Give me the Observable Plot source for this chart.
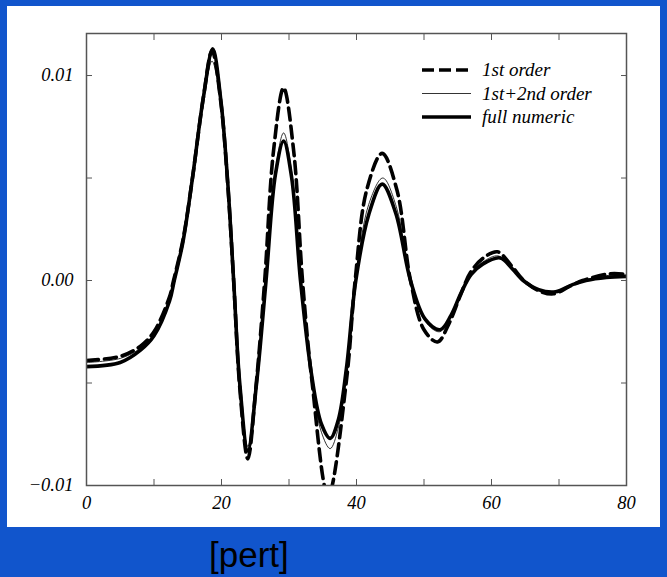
<!DOCTYPE html>
<html>
<head>
<meta charset="utf-8">
<script src="https://cdn.jsdelivr.net/npm/d3@7"></script>
<script src="https://cdn.jsdelivr.net/npm/@observablehq/plot@0.6"></script>
<style>
  html, body { margin: 0; padding: 0; }
  body { width: 667px; height: 577px; background: #1155cc; position: relative; overflow: hidden; }
  #panel { position: absolute; left: 7px; top: 6px; width: 653px; height: 521px; background: #fff; }
  #legend { position: absolute; left: 0; top: 0; }
  #caption { position: absolute; left: 209px; top: 537px; font-family: "Liberation Sans", Arial, sans-serif; font-size: 35px; line-height: 35px; color: #000; }
</style>
</head>
<body>
<div id="panel"></div>
<svg id="legend" width="667" height="577"></svg>
<div id="caption">[pert]</div>
<script>
// ---- data ----
const seriesNames = ["1st order", "1st+2nd order", "full numeric"];

const xFirst = [0, 5, 8, 10, 12.3, 12.9, 14.3, 15.7, 17.3, 18.6, 19.9, 20.9, 21.8, 22.7, 23.9, 25.1, 26.4, 27.7, 29.2, 30.7, 32.0, 33.4, 35.8, 38.5, 39.8, 41.5, 43.8, 46.0, 48.0, 50.0, 52.0, 53.7, 55.3, 56.9, 58.8, 60.9, 63.0, 64.8, 67.0, 69.2, 71.5, 73.5, 77.6, 80];
const yFirst = [-0.0039, -0.0037, -0.0032, -0.0025, -0.0008, 0.0000, 0.0020, 0.0050, 0.0089, 0.0112, 0.0087, 0.0048, 0.0000, -0.0052, -0.0087, -0.0052, 0.0000, 0.0063, 0.0094, 0.0063, 0.0000, -0.0049, -0.0105, -0.0049, 0.0000, 0.0044, 0.0062, 0.0044, 0.0000, -0.0024, -0.0030, -0.0021, -0.0008, 0.0004, 0.0011, 0.0014, 0.0007, 0.0000, -0.0005, -0.00065, -0.0003, 0.0000, 0.00033, 0.0003];

const xSecond = [0, 5, 8, 10, 12.3, 12.9, 14.3, 15.7, 17.3, 18.6, 19.9, 20.9, 21.8, 22.7, 23.9, 25.2, 26.6, 28.0, 29.2, 30.4, 31.8, 33.3, 34.8, 36.1, 37.3, 38.5, 39.9, 41.8, 43.9, 45.9, 48.0, 50.2, 52.3, 53.9, 55.4, 56.9, 58.7, 61.0, 63.0, 64.7, 67.0, 69.3, 71.8, 73.8, 77.3, 80];
const ySecond = [-0.0040, -0.0038, -0.0033, -0.0026, -0.0009, 0.0000, 0.0020, 0.0050, 0.0087, 0.0107, 0.0085, 0.0048, 0.0000, -0.0050, -0.0081, -0.0050, 0.0000, 0.0054, 0.0072, 0.0053, 0.0000, -0.0047, -0.0074, -0.0082, -0.0072, -0.0046, 0.0000, 0.0037, 0.0050, 0.0036, 0.0000, -0.0020, -0.0025, -0.0018, -0.0007, 0.0003, 0.0009, 0.0012, 0.0006, 0.0000, -0.00045, -0.0006, -0.0002, 0.0000, 0.00025, 0.00025];

const xFull = [0, 5, 8, 10, 12.3, 13.0, 14.3, 15.7, 17.3, 18.7, 19.9, 20.9, 21.8, 22.7, 23.9, 25.2, 26.6, 28.0, 29.2, 30.4, 31.7, 33.3, 34.8, 36.1, 37.3, 38.5, 39.9, 41.8, 43.8, 45.8, 48.0, 50.2, 52.4, 54.0, 55.5, 57.0, 58.7, 61.3, 63.0, 64.7, 67.0, 69.5, 72.0, 74.0, 77.0, 80];
const yFull = [-0.0042, -0.0040, -0.0034, -0.0027, -0.0010, 0.0000, 0.0019, 0.0050, 0.0089, 0.0113, 0.0088, 0.0049, 0.0000, -0.0050, -0.0083, -0.0050, 0.0000, 0.0052, 0.0068, 0.0050, 0.0000, -0.0045, -0.0070, -0.0077, -0.0068, -0.0043, 0.0000, 0.0032, 0.0047, 0.0033, 0.0000, -0.0019, -0.0024, -0.0017, -0.0006, 0.0003, 0.0008, 0.0011, 0.0006, 0.0000, -0.00045, -0.00055, -0.0002, 0.0000, 0.00015, 0.0002];

const xMajorTicks = [0, 20, 40, 60, 80];
const xAllTicks = [0, 10, 20, 30, 40, 50, 60, 70, 80];
const yMajorTicks = [-0.01, 0, 0.01];
const yAllTicks = [-0.01, -0.005, 0, 0.005, 0.01];

// ---- build tables ----
const first = xFirst.map((x, i) => ({x, y: yFirst[i]}));
const second = xSecond.map((x, i) => ({x, y: ySecond[i]}));
const full = xFull.map((x, i) => ({x, y: yFull[i]}));

const fmtY = d => d === 0 ? "0.00" : d3.format(".2f")(d);
const blank = () => "";
const curve = "catmull-rom";

const chart = Plot.plot({
  width: 653,
  height: 521,
  marginLeft: 79,
  marginRight: 34,
  marginTop: 27,
  marginBottom: 42,
  style: {background: "white", fontFamily: "'Liberation Serif', 'Times New Roman', serif", fontStyle: "italic", fontSize: "18.5px", color: "black"},
  x: {domain: [0, 80], label: null},
  y: {domain: [-0.01, 0.01205], label: null},
  marks: [
    Plot.line(first, {x: "x", y: "y", stroke: "black", strokeWidth: 3.6, strokeDasharray: "12,6", curve, clip: true}),
    Plot.line(second, {x: "x", y: "y", stroke: "black", strokeWidth: 0.8, curve, clip: true}),
    Plot.line(full, {x: "x", y: "y", stroke: "black", strokeWidth: 3.6, curve, clip: true}),
    Plot.frame({stroke: "#555", strokeWidth: 1.5}),
    Plot.axisX({anchor: "bottom", ticks: xMajorTicks, tickSize: 0, tickPadding: 10, tickFormat: d => String(d), label: null}),
    Plot.axisX({anchor: "bottom", ticks: xAllTicks, tickSize: -6, tickFormat: blank, label: null, stroke: "#555"}),
    Plot.axisX({anchor: "top", ticks: xAllTicks, tickSize: -6, tickFormat: blank, label: null, stroke: "#555"}),
    Plot.axisY({anchor: "left", ticks: yMajorTicks, tickSize: 0, tickPadding: 13, tickFormat: fmtY, label: null}),
    Plot.axisY({anchor: "left", ticks: yAllTicks, tickSize: -6, tickFormat: blank, label: null, stroke: "#555"}),
    Plot.axisY({anchor: "right", ticks: yAllTicks, tickSize: -6, tickFormat: blank, label: null, stroke: "#555"})
  ]
});
document.getElementById("panel").appendChild(chart);

// ---- legend ----
const legendStyles = [
  {dash: "12,5", width: 3.6},
  {dash: null, width: 0.8},
  {dash: null, width: 3.6}
];
const lg = d3.select("#legend");
seriesNames.forEach((name, i) => {
  const yy = 70 + i * 23.5;
  const ln = lg.append("line").attr("x1", 422).attr("x2", 471).attr("y1", yy).attr("y2", yy)
    .attr("stroke", "black").attr("stroke-width", legendStyles[i].width);
  if (legendStyles[i].dash) ln.attr("stroke-dasharray", legendStyles[i].dash);
  lg.append("text").attr("x", 482).attr("y", yy + 6)
    .attr("font-family", "'Liberation Serif', 'Times New Roman', serif")
    .attr("font-style", "italic").attr("font-size", 19).attr("fill", "black")
    .text(name);
});
</script>
</body>
</html>
